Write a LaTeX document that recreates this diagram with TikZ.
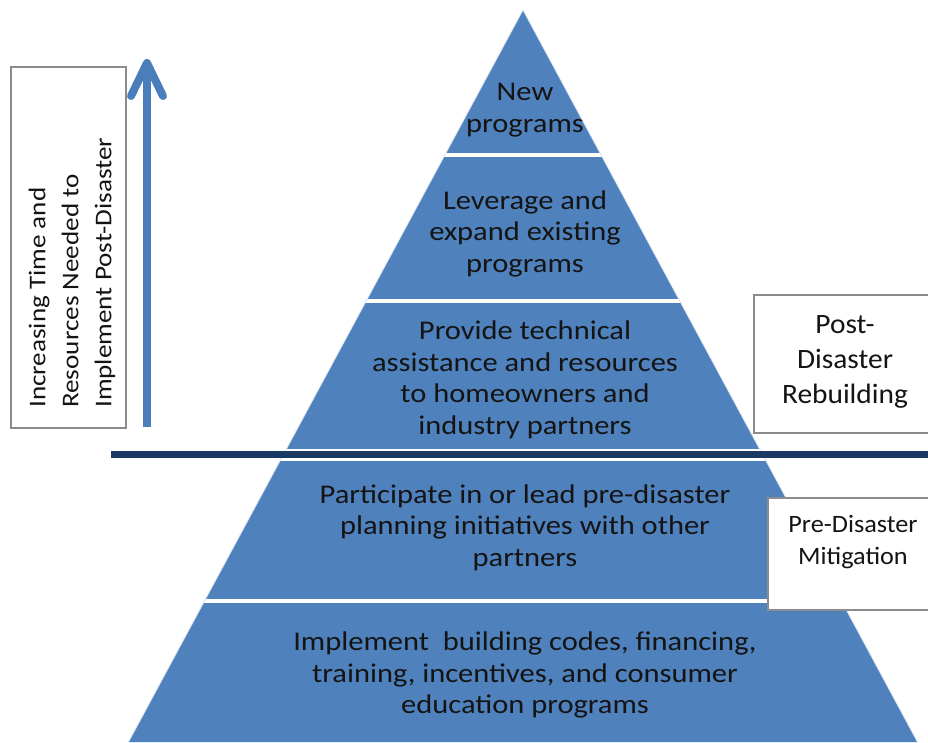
\documentclass[tikz,border=0pt]{standalone}
\usepackage{fontspec}
\setmainfont{Carlito}
\newfontfamily\widefont[FakeStretch=1.13]{Carlito}
\newfontfamily\boxfont[FakeStretch=1.05]{Carlito}
\usetikzlibrary{calc, positioning}
\definecolor{pyrblue}{HTML}{4F81BD}
\definecolor{arrowblue}{HTML}{4A7EBB}
\definecolor{navyline}{HTML}{1B3A63}
\definecolor{boxgray}{HTML}{8C8C8C}
\definecolor{textdark}{HTML}{141414}
\tikzset{
  layertext/.style={align=center, text=textdark, inner sep=0pt, font=\widefont\fontsize{27}{31.5}\selectfont},
  sidebox/.style={draw=boxgray, line width=1.5pt, fill=white},
}

\begin{document}
\begin{tikzpicture}[x=1pt, y=-1pt]
        \useasboundingbox (0,0) rectangle (928,742);
        % Pyramid
        \coordinate (apex) at (523,10);
        \coordinate (baseL) at (128.5,742);
        \coordinate (baseR) at (917.5,742);
        \begin{scope}
            \clip (apex) -- (baseR) -- (baseL) -- cycle;
            \fill[pyrblue] (apex) -- (baseR) -- (baseL) -- cycle;
            \foreach \y in {155,301,601} \draw[white, line width=4pt] (0,\y) -- (928,\y);
            \draw[white, line width=12pt] (0,454.5) -- (928,454.5);
        \end{scope}
        \draw[white!80!pyrblue, line width=0.8pt] (apex) -- (baseR) (apex) -- (baseL);
        
        % Divider
        \draw[navyline, line width=7.5pt] (111,454.5) -- (928,454.5);
        
        % Levels
        \node[layertext] (lvlnew) at (525,110) {New\\programs};
        \node[layertext] (lvlleverage) at (525,233.5) {Leverage and\\expand existing\\programs};
        \node[layertext] (lvlassist) at (525,380) {Provide technical\\assistance and resources\\to homeowners and\\industry partners};
        \node[layertext] (lvlplan) at (525,527.5) {Participate in or lead pre-disaster\\planning initiatives with other\\partners};
        \node[layertext] (lvlcodes) at (525,675) {Implement\ \ building codes, financing,\\training, incentives, and consumer\\education programs};
        
        % Side boxes
        \draw[sidebox] (754,295) rectangle (936,433);
        \node[align=center, text=textdark, font=\boxfont\fontsize{28}{35}\selectfont] (postlbl) at (845,362) {Post-\\Disaster\\Rebuilding};
        \draw[sidebox] (768,498) rectangle (938,610);
        \node[align=center, text=textdark, font=\boxfont\fontsize{25}{32}\selectfont] (prelbl) at (853,542) {Pre-Disaster\\Mitigation};
        
        % Time and resources
        \draw[sidebox] (11,67) rectangle (126,428);
        \node[rotate=90, anchor=west, align=left, inner sep=0pt, text=textdark, font=\widefont\fontsize{24}{33}\selectfont] (timelbl) at (72,408) {Increasing Time and\\Resources Needed to\\Implement Post-Disaster};
        \coordinate (arrowbot) at (147,427);
        \coordinate (arrowtop) at (147,63);
        \draw[arrowblue, line width=8pt] (arrowbot) -- (arrowtop);
        \draw[arrowblue, line width=8pt, line cap=round, line join=round] ($(arrowtop)+(-16,33)$) -- (arrowtop) -- ($(arrowtop)+(16,33)$);
    \end{tikzpicture}
\end{document}
